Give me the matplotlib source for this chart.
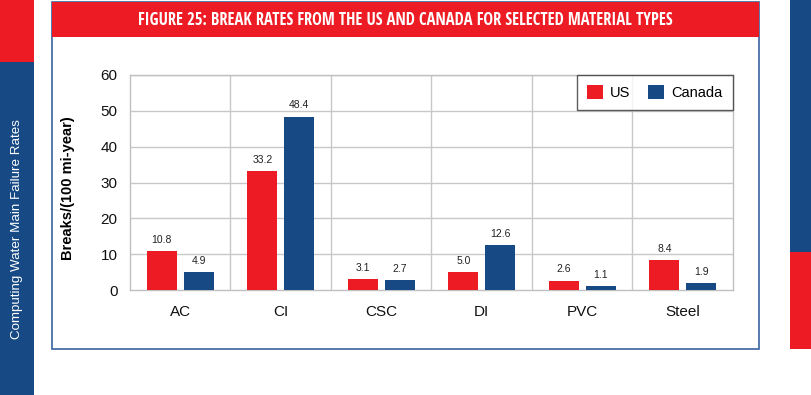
import numpy as np
import matplotlib
matplotlib.use('Agg')
from matplotlib import pyplot as plt
from matplotlib.patches import Rectangle

plt.rcParams['font.family'] = ['Liberation Sans', 'DejaVu Sans']

# data
materials = ['AC', 'CI', 'CSC', 'DI', 'PVC', 'Steel']
us = [10.8, 33.2, 3.1, 5.0, 2.6, 8.4]
canada = [4.9, 48.4, 2.7, 12.6, 1.1, 1.9]

RED = '#ED1C24'
BLUE = '#174A84'

W, H = 812, 395
fig = plt.figure(figsize=(W / 100, H / 100), dpi=100)


def px_rect(x0, y0, x1, y1, **kw):
    # rectangle in pixel coords (origin top left) -> figure fraction
    r = Rectangle((x0 / W, 1 - y1 / H), (x1 - x0) / W, (y1 - y0) / H,
                  transform=fig.transFigure, figure=fig, zorder=-5, **kw)
    fig.patches.append(r)
    return r


# page decorations
px_rect(0, 0, 34, 62, facecolor=RED, edgecolor='none')
px_rect(0, 62, 34, 395, facecolor=BLUE, edgecolor='none')
px_rect(790, 0, 812, 252, facecolor=BLUE, edgecolor='none')
px_rect(790, 252, 812, 349, facecolor=RED, edgecolor='none')
px_rect(52, 2, 759, 349, facecolor='white', edgecolor='#3A64A0', linewidth=1.2)
px_rect(52, 2, 759, 37, facecolor=RED, edgecolor='none')

fig.text(17 / W, 1 - 229 / H, 'Computing Water Main Failure Rates', rotation=90,
         color='white', fontsize=9.6, ha='center', va='center')
fig.text(405 / W, 1 - 20 / H,
         'FIGURE 25: BREAK RATES FROM THE US AND CANADA FOR SELECTED MATERIAL TYPES',
         color='white', fontsize=11.9, fontweight='bold', ha='center', va='center',
         family=['Open Sans Condensed', 'DejaVu Sans Condensed', 'Liberation Sans'])

ax = fig.add_axes([130 / W, 1 - 290 / H, (733 - 130) / W, (290 - 75) / H])
ax.set_zorder(5)
x = np.arange(len(materials))
width = 0.3
off = 0.183

rects1 = ax.bar(x - off, us, width, color=RED, label='US', zorder=3)
rects2 = ax.bar(x + off, canada, width, color=BLUE, label='Canada', zorder=3)

for rects in (rects1, rects2):
    for rect in rects:
        h = rect.get_height()
        ax.annotate('{:.1f}'.format(h),
                    xy=(rect.get_x() + rect.get_width() / 2, h),
                    xytext=(0, 4.5), textcoords='offset points',
                    ha='center', va='bottom', fontsize=7.5, color='#222222')

ax.set_xlim(-0.5, len(materials) - 0.5)
ax.set_ylim(0, 60)
ax.set_yticks(np.arange(0, 61, 10))
ax.set_xticks(x)
ax.set_xticklabels(materials)
ax.tick_params(axis='both', length=0, labelsize=11, colors='#111111')
ax.tick_params(axis='x', pad=11)
ax.tick_params(axis='y', pad=9)

# grid: horizontal at ticks, vertical between categories
for yv in range(10, 61, 10):
    ax.axhline(yv, color='#C8C8C8', linewidth=1, zorder=1)
for xv in np.arange(0.5, len(materials) - 0.5, 1):
    ax.axvline(xv, color='#C8C8C8', linewidth=1, zorder=1)
for s in ax.spines.values():
    s.set_color('#C0C0C0')
    s.set_linewidth(1)

ax.set_ylabel('Breaks/(100 mi-year)', fontsize=10.5, fontweight='bold')
ax.yaxis.set_label_coords(-0.091, 0.472)

leg = ax.legend(loc='upper right', ncol=2, fontsize=10.5, frameon=True, fancybox=False,
                borderaxespad=0, handlelength=1.1, handleheight=1.1,
                columnspacing=1.2, handletextpad=0.5, borderpad=0.7)
leg.get_frame().set_edgecolor('#333333')
leg.get_frame().set_linewidth(1)

fig.savefig('out.png', dpi=100)
